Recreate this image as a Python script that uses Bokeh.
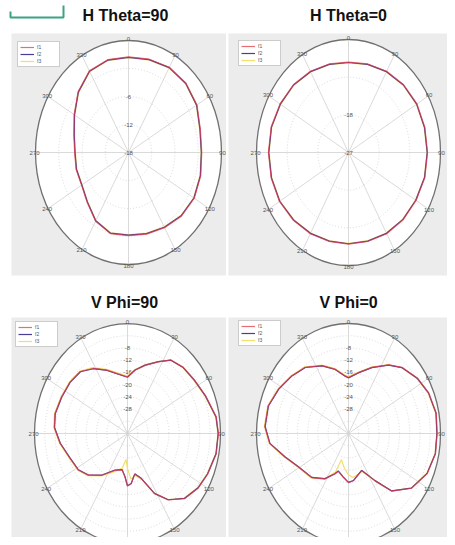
import numpy as np
from bokeh.plotting import figure
from bokeh.layouts import column, row
from bokeh.models import Legend, LegendItem, Range1d
from bokeh.core.properties import value
from bokeh.embed import file_html
from bokeh.resources import INLINE

# ---------------- data ----------------
TITLES = ["H Theta=90", "H Theta=0", "V Phi=90", "V Phi=0"]
SERIES = ["f1", "f2", "f3"]
COLORS = ["#e03a48", "#4a3d9a", "#f0df6a"]
ANGLE_TICKS = [0, 30, 60, 90, 120, 150, 180, 210, 240, 270, 300, 330]

# H Theta=90  (dB, radial axis -18 .. 6)
h90_ang = [0, 15, 30, 45, 60, 75, 90, 105, 120, 135, 150, 165,
           180, 195, 210, 225, 240, 255, 270, 285, 300, 315, 330, 345]
h90_f1 = [2.5, 2.7, 3.1, 3.0, 2.4, 1.2, 0.9, 1.3, 1.6, 1.3, 0.6, 0.1,
          -0.2, 0.0, -1.0, -2.9, -4.0, -4.0, -4.1, -3.4, -1.8, 0.4, 2.2, 2.6]
h90_f2 = [2.4, 2.6, 3.0, 2.9, 2.3, 1.1, 0.8, 1.2, 1.5, 1.2, 0.5, 0.0,
          -0.3, -0.1, -1.1, -3.0, -4.1, -4.1, -4.2, -3.5, -1.9, 0.3, 2.1, 2.5]
h90_f3 = [2.3, 2.5, 2.9, 2.8, 2.2, 1.0, 0.7, 1.1, 1.4, 1.1, 0.4, -0.1,
          -0.4, -0.2, -1.2, -3.1, -4.2, -4.2, -4.3, -3.6, -2.0, 0.2, 2.0, 2.4]
h90_rings = [-12, -6, 0]
h90_labels = [-18, -12, -6]

# H Theta=0  (dB, radial axis -27 .. 0)
h0_ang = [0, 15, 30, 45, 60, 75, 90, 105, 120, 135, 150, 165,
          180, 195, 210, 225, 240, 255, 270, 285, 300, 315, 330, 345]
h0_f1 = [-5.4, -5.1, -4.6, -4.1, -3.8, -3.8, -3.8, -3.8, -4.1, -4.3, -4.6, -5.0,
         -5.1, -5.0, -4.6, -4.1, -3.6, -3.5, -3.5, -3.5, -3.8, -4.1, -4.6, -5.1]
h0_f2 = [-5.5, -5.2, -4.7, -4.2, -3.9, -3.9, -3.9, -3.9, -4.2, -4.4, -4.7, -5.1,
         -5.2, -5.1, -4.7, -4.2, -3.7, -3.6, -3.6, -3.6, -3.9, -4.2, -4.7, -5.2]
h0_f3 = [-5.6, -5.3, -4.8, -4.3, -4.0, -4.0, -4.0, -4.0, -4.3, -4.5, -4.8, -5.2,
         -5.3, -5.2, -4.8, -4.3, -3.8, -3.7, -3.7, -3.7, -4.0, -4.3, -4.8, -5.3]
h0_rings = [-18, -9]
h0_labels = [-27, -18]

# V Phi=90  (dB, radial axis -36 .. 0)
v90_ang = [0, 8, 17, 27, 35, 45, 56, 68, 81, 90, 101, 113, 123, 134, 144, 152,
           160, 168, 175, 180, 184, 190, 202, 216, 228, 238, 250, 263, 274, 283,
           295, 307, 318, 328, 339, 348]
v90_f1 = [-17.5, -15.1, -12.7, -9.7, -6.6, -5.4, -4.7, -3.3, -1.2, -0.8, -1.0, -2.2,
          -3.3, -5.3, -9.1, -13.7, -20.3, -22.4, -19.5, -18.8, -21.8, -23.9, -23.0,
          -19.1, -15.6, -13.5, -12.3, -9.7, -7.6, -7.2, -7.8, -8.1, -8.7, -10.9,
          -13.8, -15.9]
v90_f2 = [-17.6, -15.0, -12.6, -9.6, -6.7, -5.5, -4.8, -3.4, -1.3, -0.9, -1.1, -2.3,
          -3.4, -5.4, -9.2, -13.8, -20.4, -22.5, -19.6, -18.9, -21.9, -24.0, -23.1,
          -19.2, -15.7, -13.6, -12.4, -9.8, -7.7, -7.3, -7.9, -8.2, -8.8, -11.0,
          -13.9, -16.0]
v90_f3 = [-17.2, -14.8, -12.4, -9.5, -6.8, -5.6, -5.0, -3.6, -1.5, -1.0, -1.2, -2.5,
          -3.6, -5.6, -9.3, -13.9, -20.0, -22.0, -21.0, -24.5, -27.5, -24.5, -22.5,
          -18.8, -15.4, -13.3, -12.1, -9.5, -7.4, -7.0, -7.6, -7.9, -8.5, -10.6,
          -13.5, -15.6]
v90_rings = [-32, -28, -24, -20, -16, -12, -8, -4]
v90_labels = [-28, -24, -20, -16, -12, -8]

# V Phi=0  (dB, radial axis -36 .. 0)
v0_ang = [0, 11, 23, 35, 44, 56, 67, 79, 90, 101, 113, 126, 138, 146, 157, 173,
          180, 188, 198, 202, 212, 225, 241, 253, 264, 274, 286, 298, 310, 322,
          335, 346, 356]
v0_f1 = [-17.7, -15.7, -12.5, -8.6, -5.9, -3.5, -1.9, -1.0, -1.3, -1.3, -2.5, -5.5,
         -10.6, -17.3, -22.8, -20.4, -19.9, -21.5, -23.0, -21.7, -18.5, -15.6, -13.5,
         -9.9, -5.0, -3.2, -3.3, -5.0, -6.8, -8.5, -11.5, -14.3, -17.1]
v0_f2 = [-17.8, -15.8, -12.6, -8.7, -6.0, -3.6, -2.0, -1.1, -1.4, -1.4, -2.6, -5.6,
         -10.7, -17.4, -22.9, -20.5, -20.0, -21.6, -23.1, -21.8, -18.6, -15.7, -13.6,
         -10.0, -5.1, -3.3, -3.4, -5.1, -6.9, -8.6, -11.6, -14.4, -17.2]
v0_f3 = [-17.4, -15.5, -12.3, -8.5, -6.1, -3.8, -2.2, -1.3, -1.5, -1.5, -2.7, -5.7,
         -10.8, -17.0, -22.5, -21.5, -22.5, -24.5, -27.0, -22.5, -18.3, -15.4, -13.3,
         -9.7, -4.8, -3.0, -3.1, -4.8, -6.6, -8.3, -11.3, -14.1, -16.9]
v0_rings = [-32, -28, -24, -20, -16, -12, -8, -4]
v0_labels = [-28, -24, -20, -16, -12, -8]

PANELS = [
    dict(title=TITLES[0], ang=h90_ang, series=[h90_f1, h90_f2, h90_f3], rmin=-18, rmax=6,
         rings=h90_rings, labels=h90_labels),
    dict(title=TITLES[1], ang=h0_ang, series=[h0_f1, h0_f2, h0_f3], rmin=-27, rmax=0,
         rings=h0_rings, labels=h0_labels),
    dict(title=TITLES[2], ang=v90_ang, series=[v90_f1, v90_f2, v90_f3], rmin=-36, rmax=0,
         rings=v90_rings, labels=v90_labels),
    dict(title=TITLES[3], ang=v0_ang, series=[v0_f1, v0_f2, v0_f3], rmin=-36, rmax=0,
         rings=v0_rings, labels=v0_labels),
]

# ---------------- layout geometry (pixels, relative to the page content origin) ----
GEOM = [
    dict(box=(0, 0, 226, 280), panel=(11, 33, 226, 275), c=(128, 152), rx=93, ry=112,
         title=(125, 15), legend=(17, 43)),
    dict(box=(226, 0, 447, 280), panel=(228, 33, 447, 275), c=(348, 152), rx=92, ry=113,
         title=(348, 15), legend=(238, 42)),
    dict(box=(0, 280, 226, 537), panel=(11, 317, 226, 537), c=(127, 433), rx=93, ry=110,
         title=(124, 302), legend=(15, 323)),
    dict(box=(226, 280, 447, 537), panel=(228, 317, 447, 537), c=(348, 433), rx=92, ry=110,
         title=(348, 302), legend=(238, 322)),
]

FONT = "Liberation Sans"
GRID = "#d0d0d0"


def make_panel(cfg, g):
    l, t, r, b = g["box"]
    cx, cy = g["c"]
    rx, ry = g["rx"], g["ry"]

    def dx(px):
        return (px - cx) / rx

    def dy(py):
        return (cy - py) / ry

    p = figure(width=r - l, height=b - t, output_backend="svg", toolbar_location=None,
               x_range=Range1d(dx(l), dx(r)), y_range=Range1d(dy(b), dy(t)),
               min_border=0, background_fill_color="white",
               border_fill_color="white", outline_line_color=None)
    p.axis.visible = False
    p.grid.visible = False

    pl, pt, pr, pb = g["panel"]
    p.quad(left=[dx(pl)], right=[dx(pr)], top=[dy(pt)], bottom=[dy(pb)],
           fill_color="#ececec", line_color=None)

    p.text(x=[dx(g["title"][0])], y=[dy(g["title"][1])], text=[cfg["title"]],
           text_font=value(FONT), text_font_size="16px", text_font_style="bold",
           text_color="#111111", text_align="center", text_baseline="middle")

    p.ellipse(x=[0], y=[0], width=[2], height=[2], fill_color="white",
              line_color="#707070", line_width=1.3)

    rmin, rmax = cfg["rmin"], cfg["rmax"]
    span = rmax - rmin
    rr = [(v - rmin) / span for v in cfg["rings"]]
    p.ellipse(x=[0] * len(rr), y=[0] * len(rr), width=[2 * q for q in rr],
              height=[2 * q for q in rr], fill_color=None, line_color=GRID,
              line_width=0.8, line_dash="1 2")
    xs, ys = [], []
    for a in ANGLE_TICKS[:6]:
        th = np.radians(a)
        xs.append([-np.sin(th), np.sin(th)])
        ys.append([-np.cos(th), np.cos(th)])
    p.multi_line(xs=xs, ys=ys, line_color=GRID, line_width=0.8)

    ymin = dy(b)
    th = np.radians(ANGLE_TICKS)
    lr = 1.01
    lx, ly, lt = [], [], []
    for a, tt in zip(ANGLE_TICKS, th):
        yy = lr * np.cos(tt)
        if yy - 0.03 < ymin:
            continue
        lx.append(lr * np.sin(tt))
        ly.append(yy)
        lt.append(str(a))
    p.text(x=lx, y=ly, text=lt, text_font=value(FONT), text_font_size="6px",
           text_color="#555555", text_align="center", text_baseline="middle")

    lv = cfg["labels"]
    p.text(x=[0] * len(lv), y=[(v - rmin) / span for v in lv], text=[str(v) for v in lv],
           text_font=value(FONT), text_font_size="6px", text_color="#555555",
           text_align="center", text_baseline="middle")

    rends = {}
    for i in [2, 1, 0]:
        a = np.radians(np.asarray(cfg["ang"], dtype=float))
        rn = np.clip((np.asarray(cfg["series"][i], dtype=float) - rmin) / span, 0, None)
        x = np.append(rn * np.sin(a), rn[0] * np.sin(a[0]))
        y = np.append(rn * np.cos(a), rn[0] * np.cos(a[0]))
        rends[i] = p.line(x, y, line_color=COLORS[i], line_width=1.2,
                          line_alpha=0.75 if i == 0 else 1.0)

    items = [LegendItem(label=SERIES[i], renderers=[rends[i]]) for i in range(3)]
    lgx, lgy = g["legend"]
    leg = Legend(items=items, location=(lgx - l, (b - lgy) - 24),
                 label_text_font_size="5px", label_text_font=FONT,
                 label_text_color="#555555", glyph_width=14, glyph_height=6,
                 label_height=6, spacing=1, padding=2, margin=0, label_standoff=3,
                 border_line_color="#999999", background_fill_color="white",
                 background_fill_alpha=1.0)
    p.add_layout(leg)

    if cfg["title"] == TITLES[0]:
        # small teal bracket mark at the top-left corner of the source image
        p.line(x=[dx(10), dx(10), dx(63), dx(63)], y=[dy(11), dy(17), dy(17), dy(5)],
               line_color="#3aa383", line_width=2)
    return p


figs = [make_panel(c, g) for c, g in zip(PANELS, GEOM)]
layout = column(row(figs[0], figs[1]), row(figs[2], figs[3]))
open("out.html", "w").write(file_html(layout, INLINE))
